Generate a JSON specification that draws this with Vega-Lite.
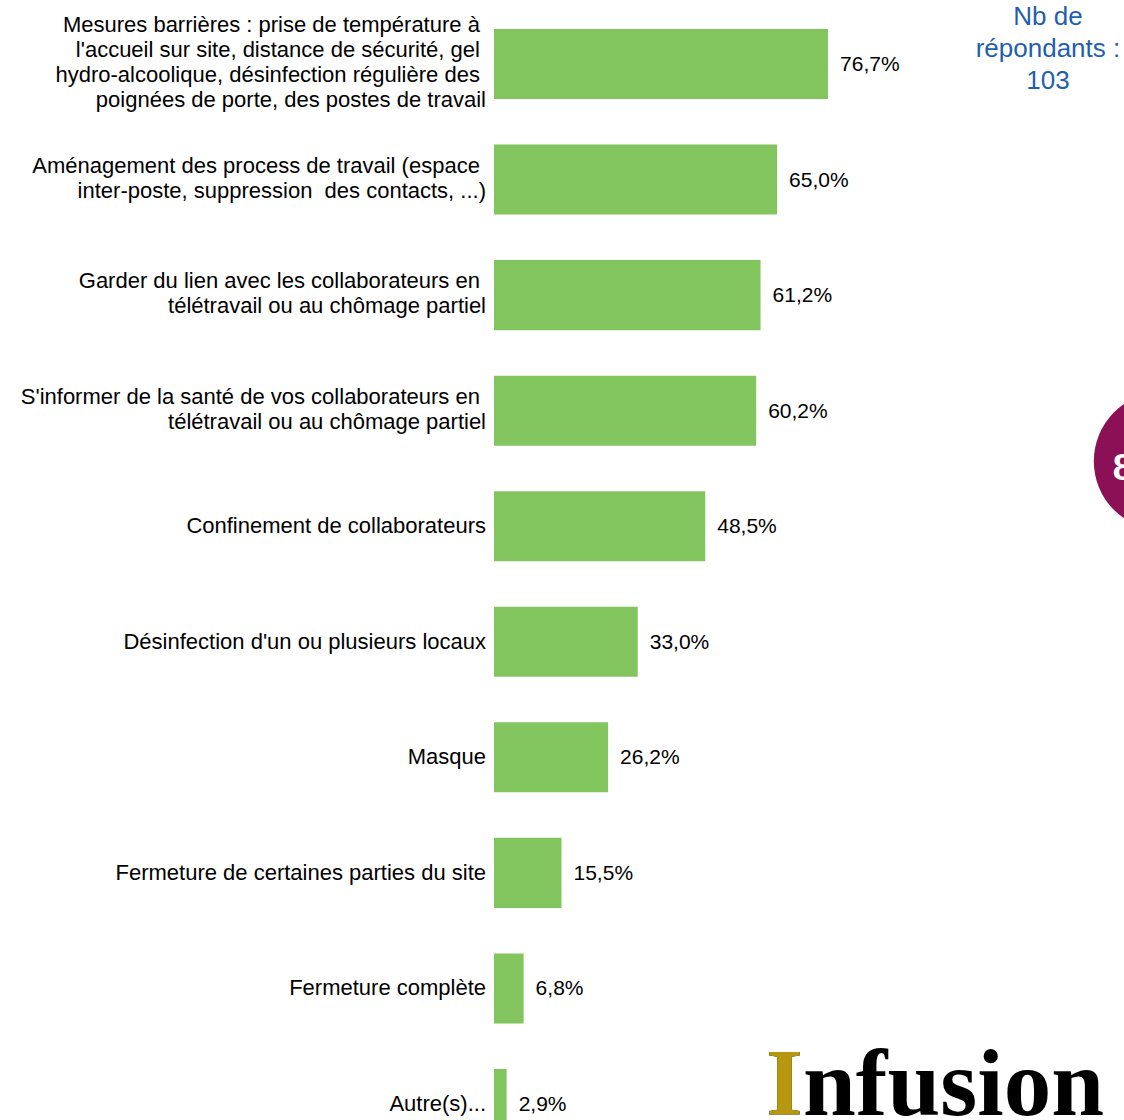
{
  "$schema": "https://vega.github.io/schema/vega-lite/v6.json",
  "width": 630,
  "height": 1168,
  "autosize": {"type": "none"},
  "padding": {"left": 494, "top": 0, "right": 0, "bottom": 0},
  "background": "white",
  "config": {
    "view": {"stroke": null},
    "locale": {"number": {"decimal": ",", "thousands": "\u00a0", "grouping": [3], "currency": ["", "\u00a0€"], "percent": "%"}},
    "text": {"font": "Liberation Sans", "fontSize": 21, "color": "#000000"}
  },
  "datasets": {
    "rows": [
      {"cat": "Mesures barrières : prise de température à\u00a0\u200b|l'accueil sur site, distance de sécurité, gel\u00a0\u200b|hydro-alcoolique, désinfection régulière des\u00a0\u200b|poignées de porte, des postes de travail", "value": 0.767},
      {"cat": "Aménagement des process de travail (espace\u00a0\u200b|inter-poste, suppression \u00a0des contacts, ...)", "value": 0.650},
      {"cat": "Garder du lien avec les collaborateurs en\u00a0\u200b|télétravail ou au chômage partiel", "value": 0.612},
      {"cat": "S'informer de la santé de vos collaborateurs en\u00a0\u200b|télétravail ou au chômage partiel", "value": 0.602},
      {"cat": "Confinement de collaborateurs", "value": 0.485},
      {"cat": "Désinfection d'un ou plusieurs locaux", "value": 0.330},
      {"cat": "Masque", "value": 0.262},
      {"cat": "Fermeture de certaines parties du site", "value": 0.155},
      {"cat": "Fermeture complète", "value": 0.068},
      {"cat": "Autre(s)...", "value": 0.029}
    ]
  },
  "encoding": {
    "y": {
      "field": "cat",
      "type": "nominal",
      "sort": null,
      "axis": null,
      "scale": {
        "domain": [
          "Mesures barrières : prise de température à\u00a0\u200b|l'accueil sur site, distance de sécurité, gel\u00a0\u200b|hydro-alcoolique, désinfection régulière des\u00a0\u200b|poignées de porte, des postes de travail",
          "Aménagement des process de travail (espace\u00a0\u200b|inter-poste, suppression \u00a0des contacts, ...)",
          "Garder du lien avec les collaborateurs en\u00a0\u200b|télétravail ou au chômage partiel",
          "S'informer de la santé de vos collaborateurs en\u00a0\u200b|télétravail ou au chômage partiel",
          "Confinement de collaborateurs",
          "Désinfection d'un ou plusieurs locaux",
          "Masque",
          "Fermeture de certaines parties du site",
          "Fermeture complète",
          "Autre(s)..."
        ],
        "paddingInner": 0.394,
        "paddingOuter": 0.251
      }
    }
  },
  "layer": [
    {
      "data": {"name": "rows"},
      "mark": {"type": "bar", "color": "#82C55F"},
      "encoding": {
        "x": {"field": "value", "type": "quantitative", "axis": null, "scale": {"domain": [0, 1.4466], "nice": false, "zero": true}}
      }
    },
    {
      "data": {"name": "rows"},
      "mark": {"type": "text", "align": "left", "baseline": "middle", "dx": 12, "dy": 1},
      "encoding": {
        "x": {"field": "value", "type": "quantitative"},
        "text": {"field": "value", "type": "quantitative", "format": ".1%"}
      }
    },
    {
      "data": {"name": "rows"},
      "transform": [{"filter": "length(split(datum.cat, '|')) == 4"}],
      "mark": {"type": "text", "align": "right", "baseline": "middle", "fontSize": 22, "dx": -8, "dy": -39, "lineBreak": "|", "lineHeight": 25},
      "encoding": {
        "x": {"datum": 0, "type": "quantitative"},
        "text": {"field": "cat", "type": "nominal"}
      }
    },
    {
      "data": {"name": "rows"},
      "transform": [{"filter": "length(split(datum.cat, '|')) == 2"}],
      "mark": {"type": "text", "align": "right", "baseline": "middle", "fontSize": 22, "dx": -8, "dy": -14, "lineBreak": "|", "lineHeight": 25},
      "encoding": {
        "x": {"datum": 0, "type": "quantitative"},
        "text": {"field": "cat", "type": "nominal"}
      }
    },
    {
      "data": {"name": "rows"},
      "transform": [{"filter": "length(split(datum.cat, '|')) == 1"}],
      "mark": {"type": "text", "align": "right", "baseline": "middle", "fontSize": 22, "dx": -8, "dy": 0},
      "encoding": {
        "x": {"datum": 0, "type": "quantitative"},
        "text": {"field": "cat", "type": "nominal"}
      }
    },
    {
      "data": {"values": [{}]},
      "mark": {"type": "text", "align": "center", "baseline": "middle", "fontSize": 26, "lineHeight": 32, "color": "#1F5FAF", "dy": -47, "text": ["Nb de", "répondants :", "103"]},
      "encoding": {
        "x": {"datum": 1.272, "type": "quantitative"},
        "y": {"datum": "Mesures barrières : prise de température à\u00a0\u200b|l'accueil sur site, distance de sécurité, gel\u00a0\u200b|hydro-alcoolique, désinfection régulière des\u00a0\u200b|poignées de porte, des postes de travail"}
      }
    },
    {
      "data": {"values": [{}]},
      "mark": {"type": "point", "filled": true, "opacity": 1, "size": 19113, "color": "#8B1055", "yOffset": -65},
      "encoding": {
        "x": {"datum": 1.536, "type": "quantitative"},
        "y": {"datum": "Confinement de collaborateurs"}
      }
    },
    {
      "data": {"values": [{}]},
      "mark": {"type": "text", "align": "left", "baseline": "middle", "fontSize": 37, "fontWeight": "bold", "color": "#FFFFFF", "dy": -57, "text": "8"},
      "encoding": {
        "x": {"datum": 1.421, "type": "quantitative"},
        "y": {"datum": "Confinement de collaborateurs"}
      }
    },
    {
      "data": {"values": [{}]},
      "mark": {"type": "text", "align": "left", "baseline": "alphabetic", "font": "Liberation Serif", "fontSize": 95, "fontWeight": "bold", "color": "#000000", "dy": 11, "text": "Infusion"},
      "encoding": {
        "x": {"datum": 0.6246, "type": "quantitative"},
        "y": {"datum": "Autre(s)..."}
      }
    },
    {
      "data": {"values": [{}]},
      "mark": {"type": "text", "align": "left", "baseline": "alphabetic", "font": "Liberation Serif", "fontSize": 95, "fontWeight": "bold", "color": "#B5980F", "dy": 11, "text": "I"},
      "encoding": {
        "x": {"datum": 0.6246, "type": "quantitative"},
        "y": {"datum": "Autre(s)..."}
      }
    }
  ]
}
